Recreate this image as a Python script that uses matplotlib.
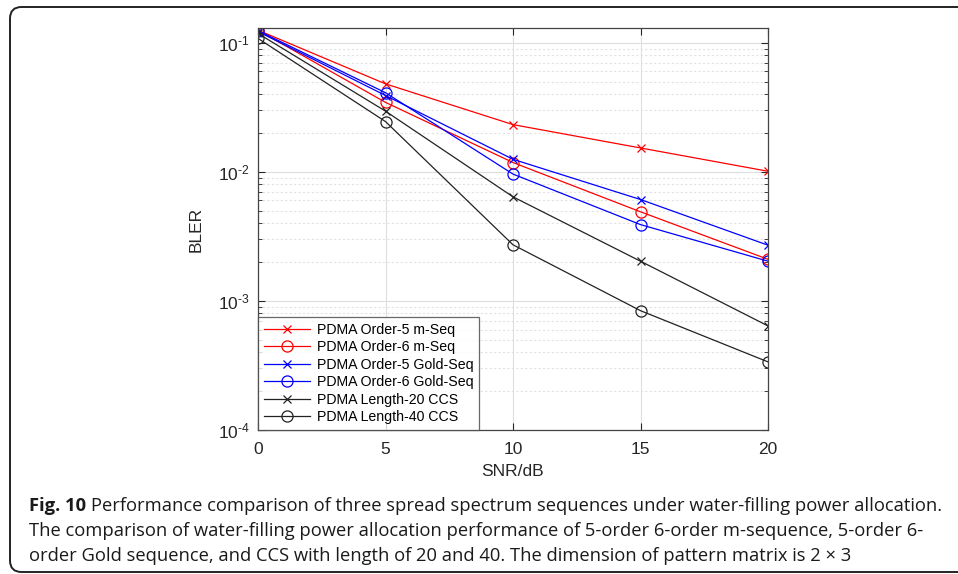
import numpy as np
import matplotlib.pyplot as plt
from matplotlib.patches import FancyBboxPatch
from matplotlib.ticker import LogLocator, NullFormatter, FuncFormatter

plt.rcParams['font.family'] = ['Liberation Sans', 'DejaVu Sans']
plt.rcParams['mathtext.fontset'] = 'custom'
plt.rcParams['mathtext.rm'] = 'Liberation Sans'
plt.rcParams['mathtext.it'] = 'Liberation Sans:italic'
plt.rcParams['mathtext.bf'] = 'Liberation Sans:bold'

# data
snr = [0, 5, 10, 15, 20]
m5 = [0.125, 0.048, 0.0232, 0.0153, 0.0101]
m6 = [0.125, 0.0345, 0.0118, 0.0049, 0.0021]
gold5 = [0.122, 0.039, 0.0125, 0.0061, 0.0027]
gold6 = [0.124, 0.041, 0.0096, 0.0039, 0.00203]
ccs20 = [0.118, 0.0295, 0.0064, 0.00203, 0.00064]
ccs40 = [0.108, 0.0245, 0.00272, 0.00084, 0.000337]

labels = ['PDMA Order-5 m-Seq', 'PDMA Order-6 m-Seq',
          'PDMA Order-5 Gold-Seq', 'PDMA Order-6 Gold-Seq',
          'PDMA Length-20 CCS', 'PDMA Length-40 CCS']
series = [m5, m6, gold5, gold6, ccs20, ccs40]
colors = ['#ff0000', '#ff0000', '#0000ff', '#0000ff', '#222222', '#222222']
markers = ['x', 'o', 'x', 'o', 'x', 'o']

fig = plt.figure(figsize=(9.58, 5.74), dpi=100)

# rounded frame around the figure
frame = FancyBboxPatch((10 / 958, 2 / 574), 1.2, 565 / 574,
                       boxstyle='round,pad=0,rounding_size=0.012',
                       transform=fig.transFigure, fill=False,
                       edgecolor='#222222', linewidth=1.4,
                       mutation_aspect=958 / 574)
fig.patches.append(frame)

ax = fig.add_axes([258 / 958, 1 - 430 / 574, 510 / 958, 402 / 574])

for y, lab, c, mk in zip(series, labels, colors, markers):
    ax.semilogy(snr, y, color=c, marker=mk, label=lab, linewidth=0.9,
                markersize=8 if mk == 'o' else 6, markerfacecolor='none',
                markeredgewidth=0.9)

ax.set_xlim(0, 20)
ax.set_ylim(1e-4, 0.13)
ax.set_xticks(snr)
ax.yaxis.set_major_locator(LogLocator(base=10, numticks=10))
ax.yaxis.set_minor_locator(LogLocator(base=10, subs=range(2, 10), numticks=10))
ax.yaxis.set_minor_formatter(NullFormatter())
# matlab style exponent with a plain hyphen
ax.yaxis.set_major_formatter(FuncFormatter(
    lambda v, pos: r'$10^{\text{-%d}}$' % round(-np.log10(v))))

ax.grid(True, which='major', color='#dedede', linewidth=0.8)
ax.grid(True, which='minor', axis='y', color='#e2e2e2', linewidth=0.8,
        linestyle=(0, (2, 2)))
ax.set_axisbelow(True)

ax.tick_params(which='both', direction='in', top=True, right=True,
               labelsize=12.5, colors='#262626')
ax.tick_params(which='major', length=5, pad=6)
ax.tick_params(axis='x', which='major', pad=9)
ax.tick_params(which='minor', length=3)
for s in ax.spines.values():
    s.set_color('#444444')
    s.set_linewidth(0.9)

ax.set_xlabel('SNR/dB', fontsize=12.5, color='#262626', labelpad=5)
ax.set_ylabel('BLER', fontsize=12.5, color='#262626', labelpad=10)

leg = ax.legend(loc='lower left', fontsize=10.2, frameon=True, fancybox=False,
                edgecolor='#444444', borderaxespad=0, handlelength=3.3,
                labelspacing=0.25, borderpad=0.4, handletextpad=0.45)
leg.get_frame().set_linewidth(0.9)

# caption
cap_font = ['Open Sans', 'DejaVu Sans']
cap_size = 13.2
x0 = 29 / 958
head = fig.text(x0, 1 - 506 / 574, 'Fig. 10', fontsize=cap_size, fontweight='bold',
                family=cap_font, va='center', ha='left', color='#1a1a1a')
fig.canvas.draw()
bb = head.get_window_extent().transformed(fig.transFigure.inverted())
fig.text(bb.x1 + 5 / 958, 1 - 506 / 574,
         'Performance comparison of three spread spectrum sequences under water-filling power allocation.',
         fontsize=cap_size, family=cap_font, va='center', ha='left', color='#1a1a1a')
fig.text(x0, 1 - 531 / 574,
         'The comparison of water-filling power allocation performance of 5-order 6-order m-sequence, 5-order 6-',
         fontsize=cap_size, family=cap_font, va='center', ha='left', color='#1a1a1a')
fig.text(x0, 1 - 556 / 574,
         'order Gold sequence, and CCS with length of 20 and 40. The dimension of pattern matrix is 2 \u00d7 3',
         fontsize=cap_size, family=cap_font, va='center', ha='left', color='#1a1a1a')

fig.savefig('out.png', dpi=100)
